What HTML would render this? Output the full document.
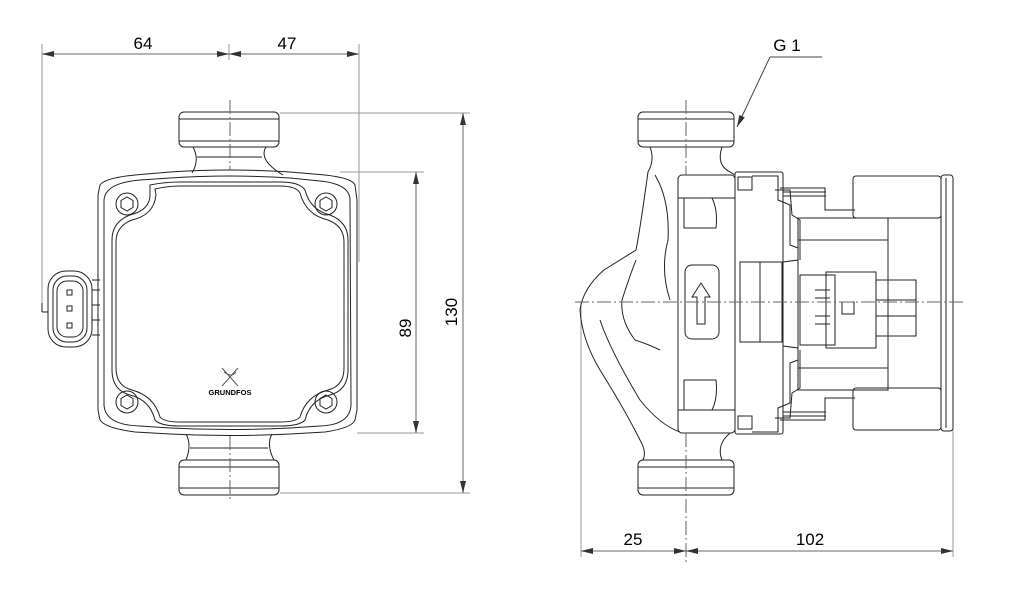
<!DOCTYPE html>
<html><head><meta charset="utf-8"><style>
html,body{margin:0;padding:0;background:#fff;}
svg{display:block;}
text{font-family:"Liberation Sans",sans-serif;fill:#000;}
</style></head><body>
<svg width="1022" height="616" viewBox="0 0 1022 616" xmlns="http://www.w3.org/2000/svg">
<defs>
<marker id="a" viewBox="0 0 12 6" refX="12" refY="3" markerWidth="12" markerHeight="6" orient="auto-start-reverse" markerUnits="userSpaceOnUse"><path d="M0,0 L12,3 L0,6 z" fill="#333"/></marker>
</defs>
<g stroke="#999" stroke-width="1" fill="none">
<!-- left dims extension -->
<line x1="42" y1="44" x2="42" y2="310"/>
<line x1="229" y1="44" x2="229" y2="60"/>
<line x1="359" y1="44" x2="359" y2="262"/>
<line x1="280" y1="113" x2="470" y2="113"/>
<line x1="340" y1="172" x2="424" y2="172"/>
<line x1="357" y1="433" x2="424" y2="433"/>
<line x1="280" y1="493" x2="470" y2="493"/>
<!-- right ext -->
<line x1="581" y1="302" x2="581" y2="557"/>
<line x1="953" y1="430" x2="953" y2="557"/>
</g>
<g stroke="#888" stroke-width="1.3" fill="none">
<line x1="42" y1="54" x2="229" y2="54" marker-start="url(#a)" marker-end="url(#a)"/>
<line x1="229" y1="54" x2="359" y2="54" marker-start="url(#a)" marker-end="url(#a)"/>
<line x1="416" y1="172" x2="416" y2="433" marker-start="url(#a)" marker-end="url(#a)"/>
<line x1="463" y1="113" x2="463" y2="493" marker-start="url(#a)" marker-end="url(#a)"/>
<line x1="581" y1="551" x2="686" y2="551" marker-start="url(#a)" marker-end="url(#a)"/>
<line x1="686" y1="551" x2="953" y2="551" marker-start="url(#a)" marker-end="url(#a)"/>
</g>
<text x="143" y="49" font-size="17" text-anchor="middle">64</text>
<text x="287" y="49" font-size="17" text-anchor="middle">47</text>
<text x="633" y="545" font-size="17" text-anchor="middle">25</text>
<text x="810" y="545" font-size="17" text-anchor="middle">102</text>
<text transform="translate(411,328) rotate(-90)" font-size="17" text-anchor="middle">89</text>
<text transform="translate(457,312) rotate(-90)" font-size="17" text-anchor="middle">130</text>
<text x="787" y="51" font-size="17" text-anchor="middle">G 1</text>
<g stroke="#444" stroke-width="1" fill="none">
<line x1="770" y1="57" x2="822" y2="57"/>
<line x1="770" y1="57" x2="737" y2="127" marker-end="url(#a)"/>
</g>

<!-- LEFT VIEW -->
<g stroke="#222" stroke-width="1" fill="none">
<rect x="179" y="112" width="100" height="35" rx="5"/>
<line x1="179" y1="119" x2="279" y2="119"/>
<line x1="179" y1="141" x2="279" y2="141"/>
<path d="M193,147 Q200,160 192,173 M266,147 Q258,160 283,175"/>
<line x1="197" y1="157" x2="262" y2="157"/>
<path d="M98,195 L100,185 Q105,178 135,175 L170,172 Q230,168 290,172 L325,175 Q352,178 355,185 L357,200 L357,410 L355,420 Q352,428 325,432 L290,434 Q230,437 170,434 L135,432 Q105,428 100,420 L98,410 Z"/>
<path d="M104,200 Q105,183 140,180 L170,178 Q230,174 290,178 L320,181 Q350,184 350,200 L351,405 Q350,425 320,426 L290,428 Q230,431 170,428 L140,426 Q105,425 104,405 Z"/>
<path d="M150,185 Q165,182 180,182 L280,182 Q300,182 305,190 Q310,210 330,215 Q348,222 348,240 L348,370 Q348,390 330,395 Q310,400 305,420 Q300,426 280,426 L180,426 Q160,426 155,420 Q150,400 130,395 Q112,390 112,370 L112,240 Q112,222 130,215 Q150,210 150,195 Z"/>
<path d="M155,189 Q168,186 180,186 L280,186 Q296,186 300,193 Q306,215 328,220 Q344,226 344,242 L344,368 Q344,386 328,390 Q306,396 300,417 Q296,422 280,422 L180,422 Q164,422 160,417 Q154,396 132,390 Q116,386 116,368 L116,242 Q116,226 132,220 Q154,215 156,195 Z"/>
<circle cx="127" cy="204" r="11"/><polygon points="127,197 133,200.5 133,207.5 127,211 121,207.5 121,200.5"/>
<circle cx="326" cy="204" r="11"/><polygon points="326,197 332,200.5 332,207.5 326,211 320,207.5 320,200.5"/>
<circle cx="127" cy="402" r="11"/><polygon points="127,395 133,398.5 133,405.5 127,409 121,405.5 121,398.5"/>
<circle cx="326" cy="402" r="11"/><polygon points="326,395 332,398.5 332,405.5 326,409 320,405.5 320,398.5"/>
<rect x="48" y="271" width="44" height="76" rx="18"/>
<rect x="53" y="276" width="34" height="66" rx="14"/>
<rect x="57" y="281" width="26" height="56" rx="10"/>
<line x1="92" y1="280" x2="100" y2="280"/><line x1="92" y1="290" x2="100" y2="290"/><line x1="92" y1="305" x2="100" y2="305"/><line x1="92" y1="320" x2="100" y2="320"/><line x1="92" y1="335" x2="100" y2="335"/>
<rect x="67" y="290" width="5" height="5"/><rect x="67" y="306" width="5" height="5"/><rect x="67" y="323" width="5" height="5"/>
<line x1="42" y1="303" x2="42" y2="312"/><line x1="42" y1="312" x2="48" y2="312"/>
<path d="M186,434 Q192,445 186,460 M272,434 Q266,445 274,460"/>
<line x1="190" y1="448" x2="268" y2="448"/>
<rect x="179" y="460" width="100" height="35" rx="5"/>
<line x1="179" y1="467" x2="279" y2="467"/>
<line x1="179" y1="488" x2="279" y2="488"/>
<path d="M222,368 L238,386 M238,368 L222,386 M224,372 Q232,378 236,372" stroke="#555"/>
</g>
<text x="230" y="395" font-size="7.5" text-anchor="middle" fill="#333" font-weight="bold">GRUNDFOS</text>
<g stroke="#666" stroke-width="1" stroke-dasharray="14,3,2,3" fill="none">
<line x1="230" y1="100" x2="230" y2="170"/>
<line x1="230" y1="436" x2="230" y2="500"/>
</g>

<!-- RIGHT VIEW -->
<g stroke="#222" stroke-width="1" fill="none">
<rect x="638" y="112" width="96" height="35" rx="5"/>
<line x1="638" y1="119" x2="734" y2="119"/><line x1="638" y1="141" x2="734" y2="141"/>
<rect x="638" y="460" width="96" height="35" rx="5"/>
<line x1="638" y1="467" x2="734" y2="467"/><line x1="638" y1="488" x2="734" y2="488"/>
<path d="M650,147 Q655,160 648,172 Q640,230 636,250 Q620,260 604,270 Q583,288 580,310 Q582,340 600,370 Q625,410 640,440 Q647,452 643,460"/>
<path d="M722,147 Q716,165 730,172 L735,175"/>
<path d="M722,460 Q716,445 730,433"/>
<path d="M636,260 Q630,275 622,300 Q620,320 635,340 Q650,345 660,350"/>
<path d="M600,320 Q610,350 640,400 Q660,425 680,432"/>
<path d="M655,175 Q670,200 668,240 Q660,270 670,300"/>
<rect x="678" y="175" width="57" height="258" rx="4"/>
<line x1="678" y1="198" x2="735" y2="198"/><line x1="678" y1="410" x2="735" y2="410"/>
<path d="M684,198 L712,198 Q718,210 716,228 L684,228 Z"/>
<path d="M684,410 L712,410 Q718,398 716,380 L684,380 Z"/>
<rect x="685" y="265" width="34" height="74" rx="7"/>
<path d="M697,324 L697,297 L692,297 L701,283 L710,297 L705,297 L705,324 Z"/>
<rect x="735" y="172" width="48" height="262" rx="2"/>
<rect x="738" y="177" width="14" height="13"/><rect x="738" y="416" width="14" height="13"/>
<path d="M752,176 L778,176 L778,200 L790,205 L790,245 L798,248 L798,260 L783,262 L783,300 M752,432 L778,432 L778,408 L790,403 L790,363 L798,360 L798,348 L783,346 L783,300"/>
<path d="M775,190 L790,190 L792,215 L800,220 L800,260 M775,418 L790,418 L792,393 L800,388 L800,350"/>
<rect x="740" y="262" width="42" height="80"/>
<line x1="760" y1="262" x2="760" y2="342"/>
<rect x="798" y="218" width="90" height="172"/>
<line x1="798" y1="240" x2="888" y2="240"/><line x1="798" y1="368" x2="888" y2="368"/>
<path d="M780,188 L825,188 L825,210 L855,210"/><path d="M780,420 L825,420 L825,398 L855,398"/>
<line x1="783" y1="192" x2="826" y2="192"/><line x1="783" y1="196" x2="826" y2="196"/><line x1="783" y1="412" x2="826" y2="412"/><line x1="783" y1="416" x2="826" y2="416"/>
<rect x="853" y="176" width="88" height="42" rx="3"/>
<rect x="853" y="388" width="88" height="42" rx="3"/>
<line x1="888" y1="218" x2="888" y2="388"/>
<rect x="941" y="175" width="12" height="256" rx="3"/>
<line x1="946" y1="178" x2="946" y2="428"/>
<rect x="800" y="275" width="35" height="70"/>
<rect x="826" y="272" width="50" height="76"/>
<rect x="876" y="280" width="40" height="56"/>
<line x1="815" y1="290" x2="830" y2="290"/><line x1="815" y1="298" x2="830" y2="298"/><line x1="815" y1="316" x2="830" y2="316"/><line x1="815" y1="324" x2="830" y2="324"/>
<rect x="842" y="302" width="12" height="12"/>
<line x1="876" y1="300" x2="916" y2="300"/><line x1="876" y1="316" x2="916" y2="316"/>
</g>
<g stroke="#666" stroke-width="1" stroke-dasharray="14,3,2,3" fill="none">
<line x1="686" y1="100" x2="686" y2="175"/>
<line x1="686" y1="433" x2="686" y2="565"/>
<line x1="575" y1="302" x2="965" y2="302"/>
</g>
</svg>
</body></html>
